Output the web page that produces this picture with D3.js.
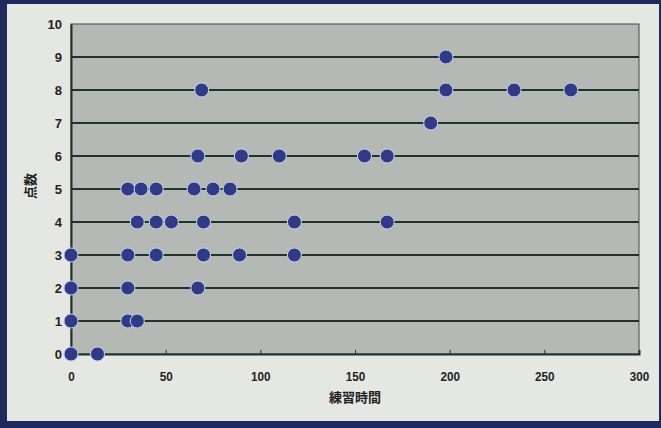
<!DOCTYPE html>
<html><head><meta charset="utf-8">
<script src="https://cdn.jsdelivr.net/npm/d3@7"></script>
<style>
html,body{margin:0;padding:0;background:#1e2a5c;}
svg{display:block;}
</style></head>
<body>
<script>
// 練習時間 (x) and 点数 (y)
const hours = [198, 69,198,234,264, 190, 67,90,110,155,167, 30,37,45,65,75,84, 35,45,53,70,118,167, 0,30,45,70,89,118, 0,30,67, 0,30,35, 0,14];
const scores = [9, 8,8,8,8, 7, 6,6,6,6,6, 5,5,5,5,5,5, 4,4,4,4,4,4, 3,3,3,3,3,3, 2,2,2, 1,1,1, 0,0];
const xTicks = [0,50,100,150,200,250,300];
const yTicks = [0,1,2,3,4,5,6,7,8,9,10];
const xTitle = "練習時間";
const yTitle = "点数";

const W = 661, H = 428;
const svg = d3.select("body").append("svg").attr("width", W).attr("height", H);
// frame
svg.append("rect").attr("x",0).attr("y",0).attr("width",W).attr("height",H).attr("fill","#1e2a5c");
svg.append("rect").attr("x",7).attr("y",4).attr("width",W-9).attr("height",H-11).attr("fill","#e5e7e3");

const m = {l:71, r:639, t:24, b:354};
const x = d3.scaleLinear().domain([0,300]).range([m.l, m.r]);
const y = d3.scaleLinear().domain([0,10]).range([m.b, m.t]);

svg.append("rect").attr("x",m.l).attr("y",m.t).attr("width",m.r-m.l).attr("height",m.b-m.t)
  .attr("fill","#b5b9b5").attr("stroke","#3a4a44").attr("stroke-width",1);

// gridlines
svg.append("g").selectAll("line").data(yTicks.filter(d=>d>0 && d<10)).join("line")
  .attr("x1",m.l).attr("x2",m.r).attr("y1",d=>y(d)).attr("y2",d=>y(d))
  .attr("stroke","#1f332c").attr("stroke-width",2);

// x axis
const xa = svg.append("g").attr("transform",`translate(0,${m.b})`)
  .call(d3.axisBottom(x).tickValues(xTicks).tickSize(-4).tickPadding(18));
xa.select(".domain").attr("stroke","#1f332c").attr("stroke-width",2);
xa.selectAll(".tick line").attr("stroke","#1f332c");
xa.selectAll("text").attr("font-family","'Liberation Sans', Arial, sans-serif").attr("font-weight","bold")
  .attr("font-size",13).attr("fill","#222").attr("transform","scale(0.9,1)");
// y axis
const ya = svg.append("g").attr("transform",`translate(${m.l},0)`)
  .call(d3.axisLeft(y).tickValues(yTicks).tickSize(0).tickPadding(9));
ya.select(".domain").attr("stroke","#1f332c").attr("stroke-width",2);
ya.selectAll("text").attr("font-family","'Liberation Sans', Arial, sans-serif").attr("font-weight","bold")
  .attr("font-size",13).attr("fill","#222");

// titles
svg.append("text").attr("x",355).attr("y",402).attr("text-anchor","middle")
  .attr("font-family","'Noto Sans CJK JP', sans-serif").attr("font-weight","bold").attr("font-size",13)
  .attr("fill","#222").text(xTitle);
svg.append("text").attr("transform","translate(35,186) rotate(-90)").attr("text-anchor","middle")
  .attr("font-family","'Noto Sans CJK JP', sans-serif").attr("font-weight","bold").attr("font-size",13)
  .attr("fill","#222").text(yTitle);

// points
const data = hours.map((h,i)=>({h, s:scores[i]}));
svg.append("g").selectAll("circle").data(data).join("circle")
  .attr("cx",d=>x(d.h)).attr("cy",d=>y(d.s)).attr("r",7)
  .attr("fill","#2f3b86").attr("stroke","#c9d0e6").attr("stroke-width",1);
</script>
</body></html>
